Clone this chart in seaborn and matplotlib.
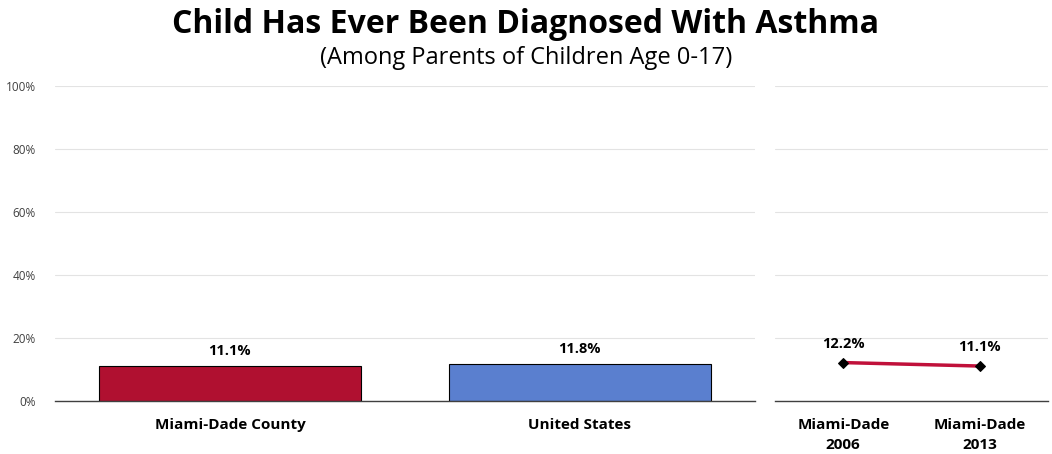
import matplotlib
matplotlib.use("Agg")
import matplotlib.pyplot as plt
import seaborn as sns
import pandas as pd
from matplotlib.ticker import PercentFormatter

# values
bar_labels = ["Miami-Dade County", "United States"]
bar_values = [11.1, 11.8]
bar_colors = ["#B01030", "#5A7FCF"]

trend_labels = ["Miami-Dade\n2006", "Miami-Dade\n2013"]
trend_values = [12.2, 11.1]

yticks = [0, 20, 40, 60, 80, 100]

sns.set_theme(style="white")
plt.rcParams["font.family"] = ["Open Sans", "DejaVu Sans"]

fig = plt.figure(figsize=(10.52, 4.54), dpi=100)
ax1 = fig.add_axes([0.0523, 0.1167, 0.665, 0.694])
ax2 = fig.add_axes([0.7367, 0.1167, 0.2595, 0.694])

bars = pd.DataFrame({"group": bar_labels, "pct": bar_values})
trend = pd.DataFrame({"year": trend_labels, "pct": trend_values})

# left panel: bars
sns.barplot(data=bars, x="group", y="pct", hue="group", palette=bar_colors,
            saturation=1, width=0.75, edgecolor="black", linewidth=0.8,
            legend=False, ax=ax1)
for i, v in enumerate(bar_values):
    ax1.text(i, v + 2.5, f"{v:.1f}%", ha="center", va="bottom",
             fontsize=10.5, fontweight="bold", color="black")

# right panel: trend line
sns.lineplot(data=trend, x="year", y="pct", color="#C0103A", linewidth=2.5,
             marker="D", markersize=5, markerfacecolor="black",
             markeredgecolor="black", sort=False, ax=ax2)
for i, v in enumerate(trend_values):
    ax2.text(i, v + 3.8, f"{v:.1f}%", ha="center", va="bottom",
             fontsize=10.5, fontweight="bold", color="black")

for ax in (ax1, ax2):
    ax.set_ylim(0, 100)
    ax.set_yticks(yticks)
    ax.yaxis.grid(True, color="#E3E3E3", linewidth=0.8)
    ax.set_axisbelow(True)
    for s in ("top", "right", "left"):
        ax.spines[s].set_visible(False)
    ax.spines["bottom"].set_color("#404040")
    ax.spines["bottom"].set_linewidth(1.0)
    ax.set_xlabel("")
    ax.set_ylabel("")
    ax.tick_params(axis="both", length=0)
    ax.set_xlim(-0.5, 1.5)
    for lab in ax.get_xticklabels():
        lab.set_fontweight("bold")
        lab.set_fontsize(11)
        lab.set_color("black")

for lab in ax2.get_xticklabels():
    lab.set_linespacing(1.6)

ax1.yaxis.set_major_formatter(PercentFormatter(decimals=0))
ax1.tick_params(axis="y", labelsize=8.5, labelcolor="#404040", pad=14)
ax1.tick_params(axis="x", pad=12)
ax2.tick_params(axis="y", labelleft=False)
ax2.tick_params(axis="x", pad=12)

fig.text(0.5, 0.947, "Child Has Ever Been Diagnosed With Asthma", ha="center",
         va="center", fontsize=23, fontweight="bold", color="black")
fig.text(0.5, 0.872, "(Among Parents of Children Age 0-17)", ha="center",
         va="center", fontsize=17, color="black")

fig.savefig("out.png", dpi=100)
